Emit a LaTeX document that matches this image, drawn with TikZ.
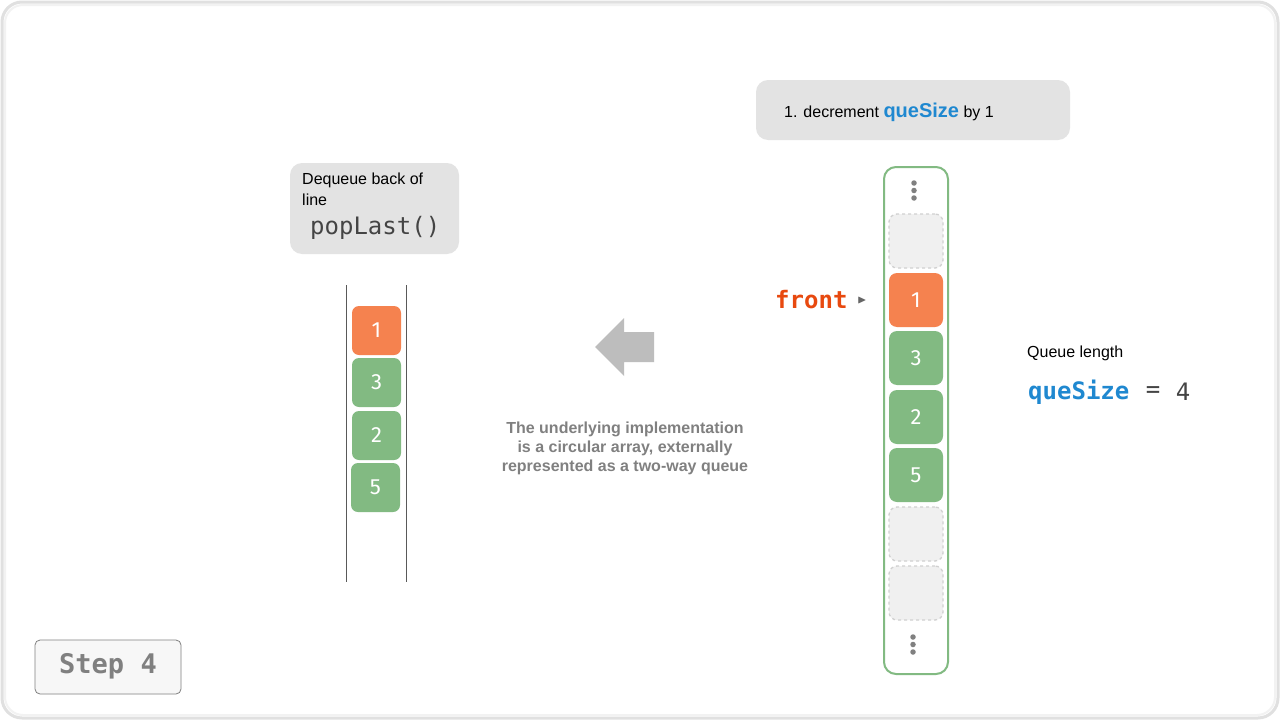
\documentclass[tikz,border=0pt]{standalone}
\usepackage{fontspec}
\usepackage{amssymb}
\setmainfont{Liberation Sans}
\newfontfamily\monof{DejaVu Sans Mono}
\newfontfamily\cellf{Fira Sans}
\definecolor{boxgray}{HTML}{E3E3E3}
\definecolor{cellorange}{HTML}{F5824F}
\definecolor{cellgreen}{HTML}{82BA82}
\definecolor{emptyfill}{HTML}{F0F0F0}
\definecolor{emptyline}{HTML}{D0D0D0}
\definecolor{qblue}{HTML}{1F88D0}
\definecolor{frontred}{HTML}{E8490F}
\definecolor{arrowgray}{HTML}{BDBDBD}
\definecolor{textgray}{HTML}{808080}
\definecolor{darktext}{HTML}{444444}
\tikzset{
  note/.style={fill=boxgray, rounded corners=12pt, draw=none},
  lcell/.style={minimum width=49pt, minimum height=49pt, rounded corners=7pt, text=white, font=\cellf\fontsize{22}{26}\selectfont, inner sep=0pt},
  rcell/.style={minimum width=54pt, minimum height=54pt, rounded corners=8pt, text=white, font=\cellf\fontsize{22}{26}\selectfont, inner sep=0pt},
  ecell/.style={rcell, fill=emptyfill, draw=emptyline, dashed, line width=1.3pt},
  dot/.style={circle, fill=gray, inner sep=0pt, minimum size=5.5pt},
  plain/.style={inner sep=0pt, anchor=west}
}
\begin{document}
\begin{tikzpicture}[x=1pt,y=-1pt]
\useasboundingbox (0,0) rectangle (1280,720);
% frame
\draw[draw=black!12, line width=3pt, fill=white, rounded corners=20pt] (2,2) rectangle (1278,718);
\draw[draw=black!5, line width=2pt, rounded corners=18pt] (5,5) rectangle (1275,715);

% top note
\node[note, minimum width=314pt, minimum height=60pt] (topnote) at (913,110) {};
\node[plain] (toptext) at (784,112) {\fontsize{16}{19}\selectfont 1. decrement \textcolor{qblue}{\fontsize{20}{24}\selectfont\bfseries queSize} by 1};

% left note
\node[note, minimum width=169pt, minimum height=91pt] (leftnote) at (374.5,208.5) {};
\node[plain] (lt1) at (302,180) {\fontsize{16}{19}\selectfont Dequeue back of};
\node[plain] (lt2) at (302,200) {\fontsize{16}{19}\selectfont line};
\node[plain, text=darktext] (lt3) at (310,228) {\monof\fontsize{24}{28}\selectfont popLast()};

% left column lines
\coordinate (l1a) at (346,285); \coordinate (l1b) at (346,582);
\coordinate (l2a) at (406,285); \coordinate (l2b) at (406,582);
\draw[black!65, line width=1pt] (l1a) -- (l1b);
\draw[black!65, line width=1pt] (l2a) -- (l2b);

% left cells
\node[lcell, fill=cellorange] (a1) at (376.5,330.5) {1};
\node[lcell, fill=cellgreen] (a2) at (376.5,382.5) {3};
\node[lcell, fill=cellgreen] (a3) at (376.5,435.5) {2};
\node[lcell, fill=cellgreen] (a4) at (375.5,487.5) {5};

% big grey arrow
\fill[arrowgray] (595,347) -- (624,318) -- (624,332) -- (654,332) -- (654,362) -- (624,362) -- (624,376) -- cycle;

% explanatory text
\node[text=textgray, align=center, font=\bfseries\fontsize{16}{19}\selectfont] (expl) at (625,448) {The underlying implementation\\is a circular array, externally\\represented as a two-way queue};

% right container
\draw[cellgreen, line width=2pt, rounded corners=12pt] (884,167) rectangle (948,674);
\node[dot] (d1) at (914,183) {};
\node[dot] (d2) at (914,190.5) {};
\node[dot] (d3) at (914,198) {};
\node[dot] (d4) at (913,637) {};
\node[dot] (d5) at (913,644.5) {};
\node[dot] (d6) at (913,652) {};

\node[ecell] (b0) at (916,241) {};
\node[rcell, fill=cellorange] (b1) at (916,300) {1};
\node[rcell, fill=cellgreen] (b2) at (916,358) {3};
\node[rcell, fill=cellgreen] (b3) at (916,417) {2};
\node[rcell, fill=cellgreen] (b4) at (916,475) {5};
\node[ecell] (b5) at (916,534) {};
\node[ecell] (b6) at (916,593) {};

% front pointer
\node[plain, text=frontred] (front) at (775,300) {\monof\bfseries\fontsize{24}{28}\selectfont front};
\node[text=black!60, inner sep=0pt] (farrow) at (862,300) {\fontsize{12}{12}\selectfont $\blacktriangleright$};

% queue length
\node[plain] (ql) at (1027,353) {\fontsize{16}{19}\selectfont Queue length};
\node[plain, text=qblue] (qs) at (1028,392) {\monof\bfseries\fontsize{24}{28}\selectfont queSize};
\node[text=darktext, inner sep=0pt] (qeq) at (1153,392) {\monof\fontsize{24}{28}\selectfont =};
\node[text=darktext, inner sep=0pt] (qval) at (1183,392) {\monof\fontsize{24}{28}\selectfont 4};

% step box
\node[draw=black!50, fill=black!3, rounded corners=5pt, minimum width=146pt, minimum height=54pt, line width=0.8pt] (step4) at (108,667) {};
\node[text=textgray, inner sep=0pt] (steptext) at (108,666) {\monof\bfseries\fontsize{27}{30}\selectfont Step 4};
\end{tikzpicture}
\end{document}
